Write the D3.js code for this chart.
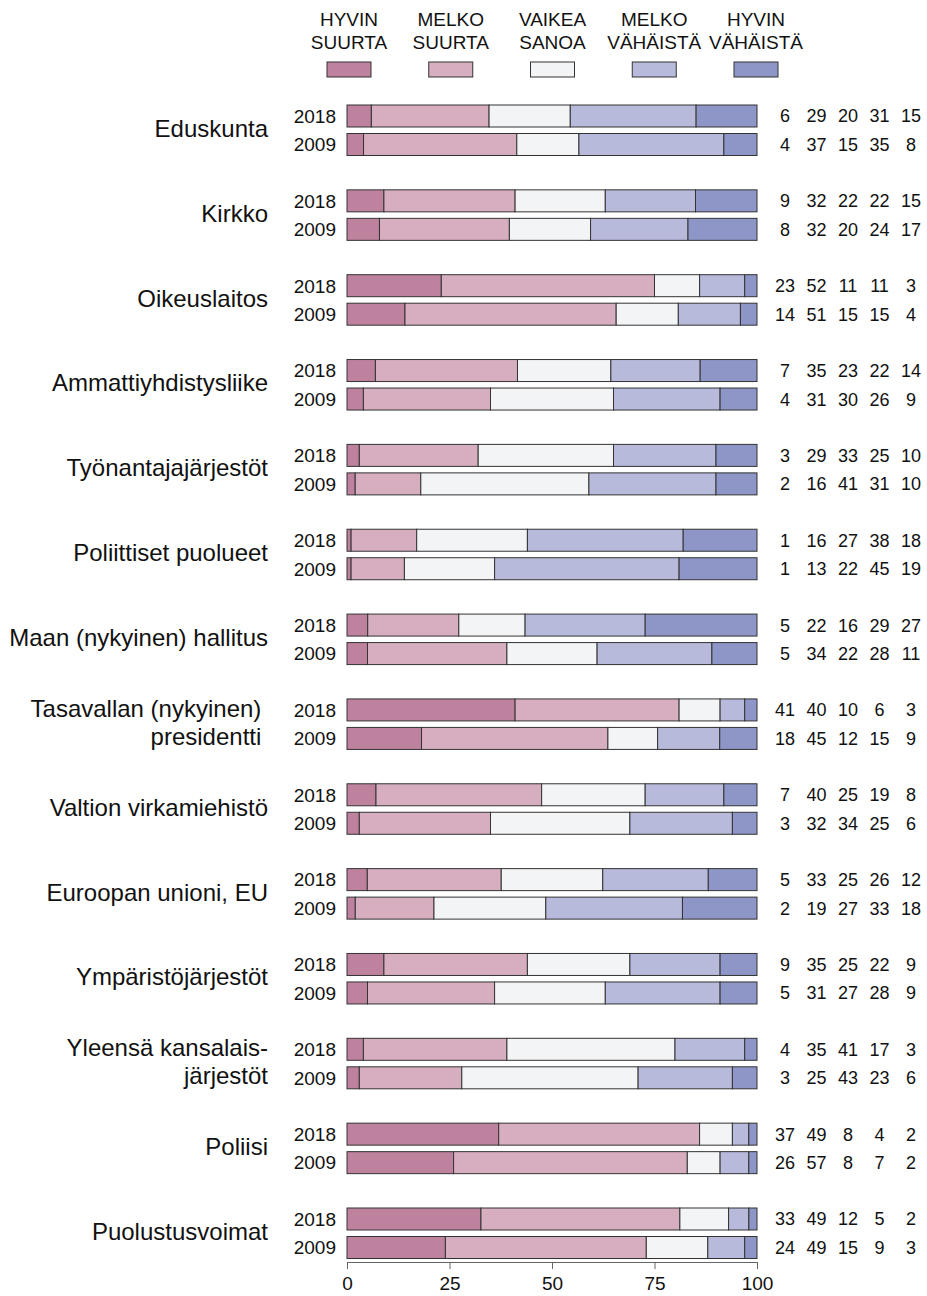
<!DOCTYPE html>
<html>
<head>
<meta charset="utf-8">
<script src="https://cdn.jsdelivr.net/npm/d3@7"></script>
<style>
  body { margin: 0; background: #fff; }
  text { font-family: "Liberation Sans", Arial, sans-serif; fill: #111; }
</style>
</head>
<body>
<div id="chart"></div>
<script>
// luottamus instituutioihin, 2018 vs 2009
var institutions = [
  ["Eduskunta"], ["Kirkko"], ["Oikeuslaitos"], ["Ammattiyhdistysliike"],
  ["Työnantajajärjestöt"], ["Poliittiset puolueet"], ["Maan (nykyinen) hallitus"],
  ["Tasavallan (nykyinen)\u00a0", "presidentti\u00a0"], ["Valtion virkamiehistö"],
  ["Euroopan unioni, EU"], ["Ympäristöjärjestöt"], ["Yleensä kansalais-", "järjestöt"],
  ["Poliisi"], ["Puolustusvoimat"]
];
var years = ["2018", "2009"];
var categories = [["HYVIN", "SUURTA"], ["MELKO", "SUURTA"], ["VAIKEA", "SANOA"], ["MELKO", "VÄHÄISTÄ"], ["HYVIN", "VÄHÄISTÄ"]];
var colors = ["#bf829e", "#d6aec0", "#f3f4f6", "#b7badb", "#8e96c8"];
var ticks = [0, 25, 50, 75, 100];

var values2018 = [
  [6, 29, 20, 31, 15], [9, 32, 22, 22, 15], [23, 52, 11, 11, 3], [7, 35, 23, 22, 14],
  [3, 29, 33, 25, 10], [1, 16, 27, 38, 18], [5, 22, 16, 29, 27], [41, 40, 10, 6, 3],
  [7, 40, 25, 19, 8], [5, 33, 25, 26, 12], [9, 35, 25, 22, 9], [4, 35, 41, 17, 3],
  [37, 49, 8, 4, 2], [33, 49, 12, 5, 2]
];
var values2009 = [
  [4, 37, 15, 35, 8], [8, 32, 20, 24, 17], [14, 51, 15, 15, 4], [4, 31, 30, 26, 9],
  [2, 16, 41, 31, 10], [1, 13, 22, 45, 19], [5, 34, 22, 28, 11], [18, 45, 12, 15, 9],
  [3, 32, 34, 25, 6], [2, 19, 27, 33, 18], [5, 31, 27, 28, 9], [3, 25, 43, 23, 6],
  [26, 57, 8, 7, 2], [24, 49, 15, 9, 3]
];

var width = 927, height = 1296, barH = 22, rowGap = 28.5;

var svg = d3.select('#chart').append('svg')
    .attr('width', width)
    .attr('height', height);

var xS = d3.scaleLinear().domain([0, 100]).range([347, 757]);
var yS = d3.scalePoint()
    .domain(d3.range(institutions.length))
    .range([116, 1219]);
var numX = d3.scalePoint().domain(d3.range(5)).range([785, 911]);
var legX = d3.scalePoint().domain(d3.range(5)).range([349, 756]);

// legend
var leg = svg.selectAll('g.leg')
    .data(categories)
    .enter().append('g')
    .attr('class', 'leg')
    .attr('transform', function (d, i) { return 'translate(' + legX(i) + ',0)'; });
leg.append('rect')
    .attr('x', -22).attr('y', 62)
    .attr('width', 44).attr('height', 15)
    .attr('fill', function (d, i) { return colors[i]; })
    .attr('stroke', '#333');
leg.selectAll('text')
    .data(function (d) { return d; })
    .enter().append('text')
    .attr('y', function (d, j) { return 26 + j * 23; })
    .attr('text-anchor', 'middle')
    .style('font-family', '"Liberation Sans Narrow", "Arial Narrow", sans-serif')
    .style('font-size', '19px')
    .text(function (d) { return d; });

// rows
var rows = [];
institutions.forEach(function (inst, i) {
  rows.push({i: i, year: years[0], vals: values2018[i], y: yS(i)});
  rows.push({i: i, year: years[1], vals: values2009[i], y: yS(i) + rowGap});
});

var row = svg.selectAll('g.row')
    .data(rows)
    .enter().append('g')
    .attr('class', 'row');

row.each(function (r) {
  var g = d3.select(this);
  var total = d3.sum(r.vals), cum = 0;
  var segs = r.vals.map(function (v, k) {
    var s = {k: k, x0: cum / total * 100, x1: (cum + v) / total * 100};
    cum += v;
    return s;
  });
  g.selectAll('rect')
      .data(segs)
      .enter().append('rect')
      .attr('x', function (s) { return xS(s.x0); })
      .attr('width', function (s) { return xS(s.x1) - xS(s.x0); })
      .attr('y', r.y - barH / 2)
      .attr('height', barH)
      .attr('fill', function (s) { return colors[s.k]; })
      .attr('stroke', '#333')
      .attr('stroke-width', 1);
  g.append('text')
      .attr('x', 336).attr('y', r.y)
      .attr('dy', '0.36em')
      .attr('text-anchor', 'end')
      .style('font-size', '19px')
      .text(r.year);
  g.selectAll('text.num')
      .data(r.vals)
      .enter().append('text')
      .attr('class', 'num')
      .attr('x', function (v, k) { return numX(k); })
      .attr('y', r.y)
      .attr('dy', '0.36em')
      .attr('text-anchor', 'middle')
      .style('font-size', '18px')
      .text(function (v) { return v; });
});

// institution labels
svg.selectAll('g.inst')
    .data(institutions)
    .enter().append('g')
    .attr('class', 'inst')
    .each(function (lines, i) {
      var g = d3.select(this);
      var n = lines.length;
      lines.forEach(function (t, j) {
        var y = n === 1 ? yS(i) + rowGap / 2 - 2 : yS(i) + j * rowGap - 2;
        g.append('text')
            .attr('x', 268).attr('y', y)
            .attr('dy', '0.36em')
            .attr('text-anchor', 'end')
            .style('font-size', '24px')
            .style('white-space', 'pre')
            .text(t);
      });
    });

// axis
var axis = svg.append('g')
    .attr('transform', 'translate(0,1262)')
    .call(d3.axisBottom(xS).tickValues(ticks).tickSize(7).tickPadding(8));
axis.select('.domain').attr('stroke', '#666');
axis.selectAll('.tick line').attr('stroke', '#666');
axis.selectAll('.tick text')
    .style('font-size', '19px')
    .style('font-family', '"Liberation Sans", Arial, sans-serif')
    .attr('fill', '#111');
</script>
</body>
</html>
